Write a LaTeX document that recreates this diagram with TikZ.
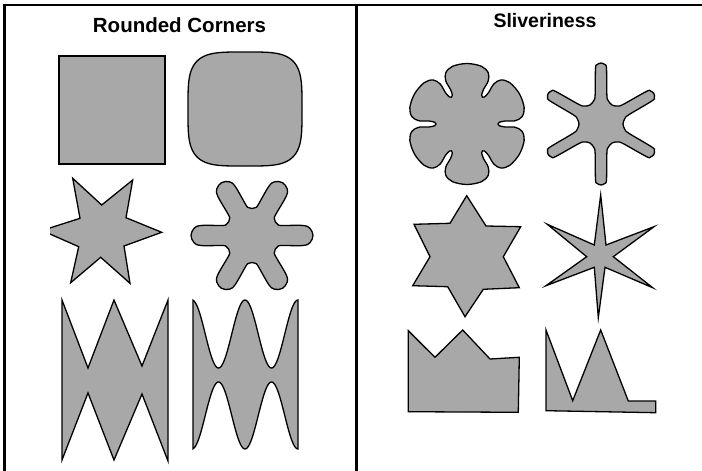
\documentclass[tikz,border=0pt]{standalone}
\usepackage{fontspec}
\setmainfont{Liberation Sans}
\definecolor{shapegray}{RGB}{168,168,168}
\begin{document}
\begin{tikzpicture}[x=1pt,y=-1pt,
  shp/.style={fill=shapegray, draw=black, line width=1.3pt},
  frame/.style={line width=2.6pt},
  ttl/.style={anchor=base, font=\bfseries\fontsize{20.5}{24}\selectfont}]
\useasboundingbox (0,0) rectangle (702,471);
% frame
\draw[frame] (4.5,471) -- (4.5,5) -- (702,5);
\draw[frame] (356.5,5) -- (356.5,471);
% titles
\node[ttl] (t1) at (179.5,32) {Rounded Corners};
\node[ttl, font=\bfseries\fontsize{19.5}{23}\selectfont] (t2) at (545,27.3) {Sliveriness};

% ---------- left panel ----------
% square
\filldraw[shp] (59,56) rectangle (165,164);
% rounded square (superellipse)
\filldraw[shp, shift={(245,109)}] plot[domain=0:360, samples=361]
  ({57*sign(cos(\x))*sqrt(abs(cos(\x)))}, {57*sign(sin(\x))*sqrt(abs(sin(\x)))}) -- cycle;
% six-point star, clipped on the left
\begin{scope}
\clip (50,0) rectangle (356,471);
\filldraw[shp] (72.7,178.3) -- (101.7,205) -- (132.7,180) -- (126,217.7) -- (161.7,232.3)
  -- (124,246) -- (130,283.3) -- (100.7,257.3) -- (70.7,282.7) -- (78.7,246.7)
  -- (42,230.5) -- (80,218.3) -- cycle;
\end{scope}
% rounded six-arm star
\def\rstar{}
\foreach \a in {0,60,...,300}{%
  \xdef\rstar{\rstar (\a-22.9:28.1) (\a-18.8:31.1) (\a-11.1:52) (\a-6.94:58.5) (\a:61)
   (\a+6.94:58.5) (\a+11.1:52) (\a+18.8:31.1) (\a+22.9:28.1) (\a+30:27)}}
\edef\tmpdraw{\noexpand\filldraw[shp, shift={(252,235.5)}] plot[smooth cycle, tension=0.55] coordinates {\rstar};}
\tmpdraw
% zigzag
\filldraw[shp] (62,300) -- (88,368) -- (114,300) -- (142,366) -- (168,300) -- (168,461)
  -- (142,394) -- (114,460) -- (88,393) -- (62,460) -- cycle;
% wavy
\filldraw[shp] plot[domain=193:298, samples=90] (\x,{334-34*cos(6.79245*(\x-245))})
  -- plot[domain=0:105, samples=90] ({298-\x},{415.5+33.5*cos(6.79245*(53-\x))}) -- cycle;

% ---------- right panel ----------
% flower
\def\flower{}
\foreach \b in {30,90,...,330}{%
  \xdef\flower{\flower (\b-14:59.5) (\b:60.5) (\b+14:59.5) (\b+22.5:55.5)
   (\b+26.2:48) (\b+25.5:38) (\b+27:32.3) (\b+30:31) (\b+33:32.3) (\b+34.5:38) (\b+33.8:48) (\b+37.5:55.5)}}
\edef\tmpdraw{\noexpand\filldraw[shp, shift={(467,124)}] plot[smooth cycle, tension=0.55] coordinates {\flower};}
\tmpdraw
% skinny rounded star
\def\sstar{}
\foreach \a in {30,90,...,330}{%
  \xdef\sstar{\sstar (\a-17:24.5) (\a-11.5:29.5) (\a-5.66:55.8) (\a-3.75:59.5) (\a:61)
   (\a+3.75:59.5) (\a+5.66:55.8) (\a+11.5:29.5) (\a+17:24.5) (\a+30:22)}}
\edef\tmpdraw{\noexpand\filldraw[shp, shift={(601,124)}] plot[smooth cycle, tension=0.55] coordinates {\sstar};}
\tmpdraw
% hexagram
\filldraw[shp] (466.7,195.7) -- (486,226) -- (520.7,226.7) -- (503.3,256.7) -- (519.3,287.7)
  -- (483.3,289.3) -- (465,316.7) -- (447.7,286.7) -- (412.7,285.7) -- (430,256.7)
  -- (414,224.3) -- (450,223.3) -- cycle;
% thin sharp star
\filldraw[shp] (600.7,195) -- (606,245) -- (654,226.7) -- (613.3,256.7) -- (652.7,287.7)
  -- (605,267.3) -- (598.3,317.7) -- (594.3,267.3) -- (546,285.7) -- (586.7,256.7)
  -- (547.3,224.3) -- (594.3,245) -- cycle;
% crown
\filldraw[shp] (408.3,330.7) -- (435,357.3) -- (462.7,330) -- (490,359) -- (519.3,357.3)
  -- (518.3,412.3) -- (408.3,411.7) -- cycle;
% spikes
\filldraw[shp] (546,330) -- (572.7,400.7) -- (600.7,330) -- (628.3,401) -- (655.7,401)
  -- (655.7,412.7) -- (546,410.7) -- cycle;
\end{tikzpicture}
\end{document}
